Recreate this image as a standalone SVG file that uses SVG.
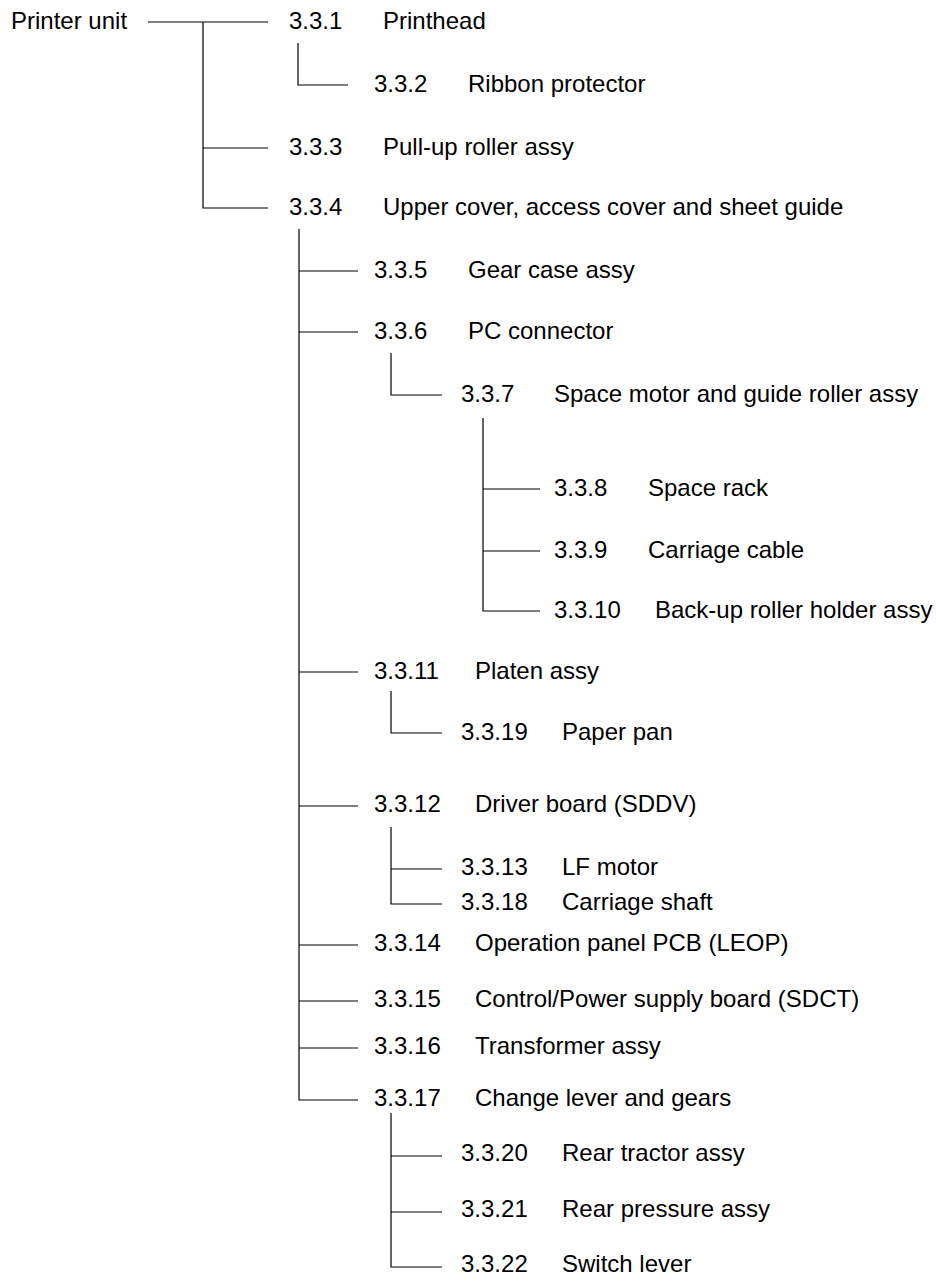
<svg xmlns="http://www.w3.org/2000/svg" width="936" height="1275" viewBox="0 0 936 1275">
<style>
text{font-family:"Liberation Sans",Arial,sans-serif;font-size:24px;fill:#000}
.c line{stroke:#000;stroke-width:1.2;fill:none}
.c path{stroke:#000;stroke-width:1.2;fill:none}
</style>
<rect width="936" height="1275" fill="#fff"/>
<g class="c" id="connectors">
<line x1="148" y1="22" x2="268" y2="22"/>
<path d="M203 22V208H268M203 148H268"/>
<path d="M298 43V85H348"/>
<path d="M299 229V1100H358M299 271H358M299 332H358M299 672H358M299 806H358M299 945H358M299 1001H358M299 1048H358"/>
<path d="M391 353V395H442"/>
<path d="M483 418V611H540M483 489H540M483 551H540"/>
<path d="M391 691V733H442"/>
<path d="M391 827V904H442M391 869H442"/>
<path d="M391 1113V1267H442M391 1156H442M391 1212H442"/>
</g>
<g id="n0"><text x="11" y="29">Printer unit</text></g>
<g id="n1"><text x="289" y="29">3.3.1</text><text x="383" y="29">Printhead</text></g>
<g id="n2"><text x="374" y="92">3.3.2</text><text x="468" y="92">Ribbon protector</text></g>
<g id="n3"><text x="289" y="155">3.3.3</text><text x="383" y="155">Pull-up roller assy</text></g>
<g id="n4"><text x="289" y="215">3.3.4</text><text x="383" y="215">Upper cover, access cover and sheet guide</text></g>
<g id="n5"><text x="374" y="278">3.3.5</text><text x="468" y="278">Gear case assy</text></g>
<g id="n6"><text x="374" y="339">3.3.6</text><text x="468" y="339">PC connector</text></g>
<g id="n7"><text x="461" y="402">3.3.7</text><text x="554" y="402">Space motor and guide roller assy</text></g>
<g id="n8"><text x="554" y="496">3.3.8</text><text x="648" y="496">Space rack</text></g>
<g id="n9"><text x="554" y="558">3.3.9</text><text x="648" y="558">Carriage cable</text></g>
<g id="n10"><text x="554" y="618">3.3.10</text><text x="655" y="618">Back-up roller holder assy</text></g>
<g id="n11"><text x="374" y="679">3.3.11</text><text x="475" y="679">Platen assy</text></g>
<g id="n19"><text x="461" y="740">3.3.19</text><text x="562" y="740">Paper pan</text></g>
<g id="n12"><text x="374" y="812">3.3.12</text><text x="475" y="812">Driver board (SDDV)</text></g>
<g id="n13"><text x="461" y="875">3.3.13</text><text x="562" y="875">LF motor</text></g>
<g id="n18"><text x="461" y="910">3.3.18</text><text x="562" y="910">Carriage shaft</text></g>
<g id="n14"><text x="374" y="951">3.3.14</text><text x="475" y="951">Operation panel PCB (LEOP)</text></g>
<g id="n15"><text x="374" y="1007">3.3.15</text><text x="475" y="1007">Control/Power supply board (SDCT)</text></g>
<g id="n16"><text x="374" y="1054">3.3.16</text><text x="475" y="1054">Transformer assy</text></g>
<g id="n17"><text x="374" y="1106">3.3.17</text><text x="475" y="1106">Change lever and gears</text></g>
<g id="n20"><text x="461" y="1161">3.3.20</text><text x="562" y="1161">Rear tractor assy</text></g>
<g id="n21"><text x="461" y="1217">3.3.21</text><text x="562" y="1217">Rear pressure assy</text></g>
<g id="n22"><text x="461" y="1272">3.3.22</text><text x="562" y="1272">Switch lever</text></g>
</svg>
